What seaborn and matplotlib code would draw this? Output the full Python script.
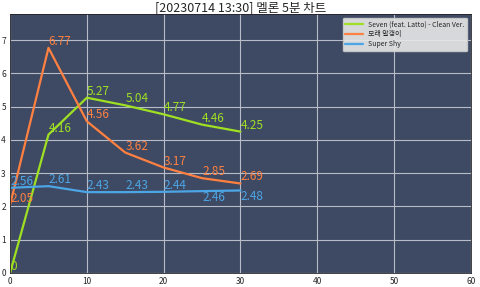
import matplotlib
matplotlib.use("Agg")
import matplotlib.pyplot as plt
import seaborn as sns
import pandas as pd

minutes = [0, 5, 10, 15, 20, 25, 30]
songs = ["Seven (feat. Latto) - Clean Ver.", "모래 알갱이", "Super Shy"]
seven = [0, 4.16, 5.27, 5.04, 4.77, 4.46, 4.25]
sand = [2.05, 6.77, 4.56, 3.62, 3.17, 2.85, 2.69]
shy = [2.56, 2.61, 2.43, 2.43, 2.44, 2.46, 2.48]
colors = ["#9FE022", "#FF8040", "#4CA6E6"]
title = "[20230714 13:30] 멜론 5분 차트"

rows = []
for s, vals in zip(songs, [seven, sand, shy]):
    for m, v in zip(minutes, vals):
        rows.append({"min": m, "val": v, "song": s})
df = pd.DataFrame(rows)

sns.set_theme(style="darkgrid")
plt.rcParams['font.family'] = ['Noto Sans CJK KR', 'DejaVu Sans']

fig, ax = plt.subplots(figsize=(4.8, 2.87), dpi=100)
ax.set_facecolor("#3E4A63")
sns.lineplot(data=df, x="min", y="val", hue="song", palette=colors, ax=ax, linewidth=1.6)

below = {("Super Shy", 25), ("Super Shy", 30)}
for s, vals, c in zip(songs, [seven, sand, shy], colors):
    for m, v in zip(minutes, vals):
        va = "top" if (s, m) in below else "bottom"
        ax.text(m, v, f"{v:g}" if v != 0 else "0", color=c, fontsize=8.5, ha="left", va=va)

ax.set_xlim(0, 60)
ax.set_ylim(0, max(sand) * 1.15)
ax.set_xticks(range(0, 61, 10))
ax.set_yticks(range(0, 8))
ax.tick_params(labelsize=6, pad=1, length=2, color="#333333")
ax.grid(color="#B8BCC8", linewidth=0.8)
ax.set_xlabel("")
ax.set_ylabel("")
for sp in ax.spines.values():
    sp.set_visible(True)
    sp.set_color("#222222")
    sp.set_linewidth(0.6)
ax.set_title(title, fontsize=9, pad=2)
leg = ax.legend(loc="upper right", fontsize=5, frameon=True, facecolor="#E8E8E8", framealpha=0.9, edgecolor="#CCCCCC", handlelength=2.5, borderpad=0.4, labelspacing=0.3)
leg.set_title(None)
fig.subplots_adjust(left=0.021, right=0.981, top=0.951, bottom=0.049)
fig.savefig("out.png", dpi=100)
